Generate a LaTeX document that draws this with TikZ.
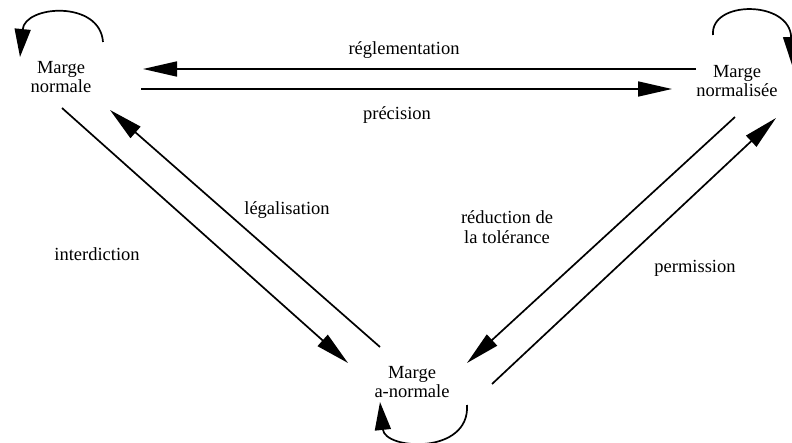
\documentclass[tikz,border=0pt]{standalone}
\usepackage{fontspec}
\setmainfont{Liberation Serif}
\usetikzlibrary{arrows.meta,calc}
\tikzset{
  state/.style={align=center, inner sep=0pt, font=\fontsize{18.5}{19.5}\selectfont},
  lbl/.style={align=center, inner sep=0pt, font=\fontsize{18.5}{19.5}\selectfont},
  conn/.style={line width=1.7pt, -{Triangle[length=34pt,width=15pt]}},
  loopc/.style={line width=1.7pt, -{Triangle[length=28pt,width=16pt]}}
}
\begin{document}
\begin{tikzpicture}[x=1pt,y=-1pt]
\useasboundingbox (0,0) rectangle (792,443);
\node[state] (nn) at (61,77) {Marge\\normale};
\node[state] (ns) at (737,81) {Marge\\normalisée};
\node[state] (na) at (412,382) {Marge\\a-normale};
% top pair
\draw[conn] ($(ns)+(-41,-12)$) -- ($(nn)+(82,-8)$);
\draw[conn] ($(nn)+(80,12)$) -- ($(ns)+(-65,8)$);
% left pair
\draw[conn] ($(nn)+(1,31)$) -- ($(na)+(-64,-19)$);
\draw[conn] ($(na)+(-32,-35)$) -- ($(nn)+(49,33)$);
% right pair
\draw[conn] ($(ns)+(-2,36)$) -- ($(na)+(55,-19)$);
\draw[conn] ($(na)+(80,2)$) -- ($(ns)+(39,37)$);
% loops
\draw[loopc] ($(nn)+(42,-35)$) .. controls ($(nn)+(39,-77)$) and ($(nn)+(-36,-72)$) .. ($(nn)+(-41,-20)$);
\draw[loopc] ($(ns)+(-24,-46)$) .. controls ($(ns)+(-27,-81)$) and ($(ns)+(53,-81)$) .. ($(ns)+(55,-16)$);
\draw[loopc] ($(na)+(55,23)$) .. controls ($(na)+(58,73)$) and ($(na)+(-27,68)$) .. ($(na)+(-32,20)$);
% labels
\node[lbl] (l1) at (404,50) {réglementation};
\node[lbl] (l2) at (397,115) {précision};
\node[lbl] (l3) at (97,254) {interdiction};
\node[lbl] (l4) at (287,210) {légalisation};
\node[lbl] (l5) at (507,227) {réduction de\\la tolérance};
\node[lbl] (l6) at (695,268) {permission};
\end{tikzpicture}
\end{document}
